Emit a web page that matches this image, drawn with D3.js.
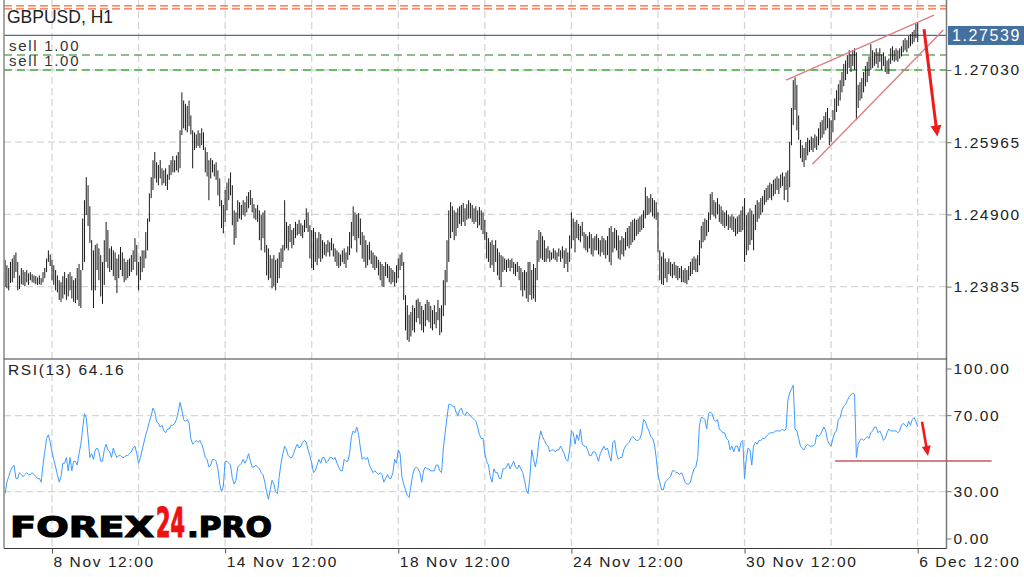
<!DOCTYPE html>
<html>
<head>
<meta charset="utf-8">
<script src="https://cdn.jsdelivr.net/npm/d3@7"></script>
<style>
  body { margin: 0; background: #fff; }
  svg { display: block; }
</style>
</head>
<body>
<svg id="chart" width="1024" height="577"></svg>
<script>
// hourly GBPUSD bars, 7 Nov 10:00 .. 6 Dec 12:00 (index = bar number)
const highs = [
1.2423,1.2415,1.2411,1.2420,1.2425,1.2430,1.2434,1.2420,1.2400,1.2411,
1.2408,1.2405,1.2408,1.2403,1.2405,1.2402,1.2400,1.2399,1.2397,1.2400,
1.2396,1.2405,1.2411,1.2425,1.2437,1.2431,1.2423,1.2415,1.2408,1.2400,
1.2393,1.2390,1.2399,1.2405,1.2396,1.2402,1.2405,1.2399,1.2393,1.2396,
1.2411,1.2417,1.2408,1.2484,1.2511,1.2545,1.2533,1.2502,1.2452,1.2437,
1.2445,1.2447,1.2440,1.2430,1.2420,1.2452,1.2479,1.2467,1.2440,1.2443,
1.2437,1.2434,1.2425,1.2431,1.2442,1.2434,1.2425,1.2420,1.2423,1.2425,
1.2430,1.2437,1.2455,1.2445,1.2420,1.2428,1.2437,1.2437,1.2464,1.2484,
1.2521,1.2545,1.2570,1.2582,1.2567,1.2563,1.2570,1.2558,1.2555,1.2558,
1.2549,1.2563,1.2570,1.2576,1.2570,1.2577,1.2582,1.2614,1.2670,1.2658,
1.2653,1.2650,1.2658,1.2636,1.2614,1.2611,1.2608,1.2614,1.2610,1.2617,
1.2611,1.2589,1.2582,1.2570,1.2573,1.2570,1.2564,1.2567,1.2555,1.2543,
1.2511,1.2504,1.2526,1.2537,1.2543,1.2552,1.2533,1.2496,1.2493,1.2511,
1.2508,1.2504,1.2511,1.2508,1.2517,1.2523,1.2526,1.2514,1.2505,1.2499,
1.2504,1.2496,1.2489,1.2493,1.2496,1.2445,1.2440,1.2430,1.2425,1.2430,
1.2423,1.2425,1.2434,1.2440,1.2445,1.2511,1.2479,1.2473,1.2476,1.2467,
1.2470,1.2479,1.2476,1.2482,1.2477,1.2474,1.2482,1.2499,1.2493,1.2474,
1.2467,1.2470,1.2464,1.2455,1.2464,1.2461,1.2452,1.2449,1.2446,1.2452,
1.2449,1.2455,1.2447,1.2440,1.2437,1.2434,1.2431,1.2437,1.2440,1.2434,
1.2443,1.2464,1.2479,1.2502,1.2493,1.2490,1.2492,1.2484,1.2464,1.2459,
1.2452,1.2445,1.2449,1.2437,1.2434,1.2430,1.2428,1.2423,1.2420,1.2417,
1.2414,1.2420,1.2417,1.2414,1.2411,1.2408,1.2405,1.2415,1.2425,1.2431,
1.2434,1.2420,1.2371,1.2356,1.2342,1.2346,1.2356,1.2352,1.2364,1.2366,
1.2361,1.2355,1.2349,1.2358,1.2364,1.2361,1.2355,1.2349,1.2356,1.2346,
1.2364,1.2352,1.2356,1.2393,1.2408,1.2452,1.2496,1.2508,1.2502,1.2496,
1.2493,1.2499,1.2502,1.2504,1.2507,1.2499,1.2505,1.2511,1.2507,1.2504,
1.2499,1.2502,1.2496,1.2501,1.2496,1.2493,1.2482,1.2464,1.2455,1.2449,
1.2452,1.2445,1.2452,1.2440,1.2434,1.2430,1.2428,1.2425,1.2423,1.2425,
1.2423,1.2425,1.2420,1.2417,1.2420,1.2414,1.2411,1.2405,1.2408,1.2405,
1.2420,1.2420,1.2408,1.2417,1.2411,1.2452,1.2467,1.2464,1.2458,1.2452,
1.2440,1.2443,1.2437,1.2434,1.2440,1.2437,1.2434,1.2440,1.2437,1.2443,
1.2437,1.2440,1.2434,1.2459,1.2493,1.2484,1.2479,1.2482,1.2476,1.2473,
1.2479,1.2464,1.2461,1.2458,1.2464,1.2461,1.2455,1.2458,1.2461,1.2455,
1.2452,1.2458,1.2455,1.2452,1.2458,1.2470,1.2473,1.2464,1.2470,1.2467,
1.2459,1.2452,1.2458,1.2455,1.2464,1.2470,1.2473,1.2479,1.2482,1.2484,
1.2482,1.2484,1.2487,1.2490,1.2496,1.2530,1.2517,1.2514,1.2520,1.2514,
1.2511,1.2508,1.2493,1.2437,1.2428,1.2434,1.2425,1.2420,1.2425,1.2420,
1.2417,1.2420,1.2415,1.2414,1.2411,1.2414,1.2408,1.2411,1.2408,1.2414,
1.2420,1.2425,1.2428,1.2425,1.2430,1.2452,1.2473,1.2479,1.2484,1.2482,
1.2493,1.2520,1.2523,1.2511,1.2508,1.2514,1.2505,1.2502,1.2496,1.2493,
1.2496,1.2490,1.2487,1.2490,1.2487,1.2484,1.2487,1.2490,1.2496,1.2502,
1.2514,1.2489,1.2493,1.2499,1.2496,1.2490,1.2504,1.2511,1.2508,1.2514,
1.2517,1.2526,1.2529,1.2533,1.2537,1.2535,1.2541,1.2543,1.2546,1.2543,
1.2549,1.2552,1.2546,1.2552,1.2555,1.2597,1.2647,1.2688,1.2692,1.2681,
1.2636,1.2600,1.2592,1.2588,1.2597,1.2603,1.2600,1.2605,1.2603,1.2608,
1.2605,1.2617,1.2626,1.2629,1.2635,1.2641,1.2647,1.2632,1.2629,1.2644,
1.2661,1.2673,1.2682,1.2688,1.2700,1.2712,1.2717,1.2725,1.2732,1.2726,
1.2732,1.2735,1.2729,1.2681,1.2685,1.2691,1.2700,1.2709,1.2715,1.2723,
1.2741,1.2732,1.2729,1.2735,1.2729,1.2735,1.2726,1.2729,1.2723,1.2717,
1.2720,1.2735,1.2738,1.2732,1.2735,1.2732,1.2735,1.2738,1.2747,1.2750,
1.2747,1.2753,1.2756,1.2759,1.2762,1.2771,1.2773
];

const lows = [
1.2383,1.2381,1.2378,1.2389,1.2390,1.2396,1.2405,1.2378,1.2380,1.2387,
1.2386,1.2384,1.2390,1.2386,1.2393,1.2390,1.2389,1.2387,1.2386,1.2387,
1.2386,1.2390,1.2396,1.2405,1.2420,1.2414,1.2393,1.2386,1.2378,1.2375,
1.2364,1.2361,1.2366,1.2372,1.2364,1.2369,1.2378,1.2366,1.2361,1.2359,
1.2364,1.2355,1.2352,1.2408,1.2420,1.2489,1.2473,1.2448,1.2378,1.2352,
1.2378,1.2408,1.2393,1.2369,1.2358,1.2386,1.2420,1.2411,1.2405,1.2408,
1.2399,1.2393,1.2374,1.2396,1.2408,1.2399,1.2390,1.2393,1.2396,1.2399,
1.2405,1.2408,1.2420,1.2400,1.2378,1.2393,1.2405,1.2411,1.2425,1.2437,
1.2479,1.2514,1.2526,1.2543,1.2537,1.2533,1.2543,1.2533,1.2536,1.2532,
1.2526,1.2541,1.2548,1.2552,1.2552,1.2555,1.2552,1.2558,1.2607,1.2617,
1.2614,1.2611,1.2620,1.2608,1.2558,1.2585,1.2588,1.2591,1.2588,1.2592,
1.2585,1.2552,1.2546,1.2511,1.2543,1.2552,1.2546,1.2541,1.2518,1.2502,
1.2470,1.2462,1.2479,1.2496,1.2511,1.2518,1.2474,1.2445,1.2455,1.2479,
1.2484,1.2482,1.2489,1.2487,1.2493,1.2499,1.2504,1.2493,1.2484,1.2482,
1.2479,1.2452,1.2437,1.2455,1.2434,1.2400,1.2393,1.2396,1.2381,1.2384,
1.2378,1.2389,1.2396,1.2411,1.2420,1.2437,1.2440,1.2437,1.2449,1.2440,
1.2445,1.2455,1.2459,1.2461,1.2458,1.2455,1.2464,1.2470,1.2464,1.2425,
1.2411,1.2408,1.2420,1.2415,1.2425,1.2420,1.2425,1.2430,1.2428,1.2434,
1.2428,1.2437,1.2428,1.2420,1.2414,1.2411,1.2414,1.2420,1.2417,1.2411,
1.2423,1.2430,1.2440,1.2458,1.2452,1.2434,1.2455,1.2445,1.2425,1.2420,
1.2411,1.2415,1.2423,1.2417,1.2411,1.2408,1.2411,1.2400,1.2393,1.2384,
1.2383,1.2399,1.2396,1.2390,1.2387,1.2390,1.2384,1.2389,1.2396,1.2408,
1.2414,1.2364,1.2319,1.2305,1.2302,1.2310,1.2319,1.2316,1.2331,1.2337,
1.2328,1.2319,1.2316,1.2325,1.2334,1.2331,1.2322,1.2319,1.2328,1.2322,
1.2334,1.2312,1.2316,1.2340,1.2356,1.2390,1.2420,1.2455,1.2464,1.2452,
1.2458,1.2470,1.2476,1.2473,1.2479,1.2473,1.2482,1.2484,1.2484,1.2479,
1.2476,1.2479,1.2470,1.2474,1.2467,1.2461,1.2452,1.2425,1.2420,1.2411,
1.2415,1.2405,1.2420,1.2400,1.2393,1.2383,1.2405,1.2408,1.2405,1.2411,
1.2406,1.2411,1.2402,1.2399,1.2405,1.2393,1.2378,1.2369,1.2378,1.2366,
1.2361,1.2371,1.2364,1.2366,1.2361,1.2393,1.2420,1.2425,1.2423,1.2420,
1.2420,1.2425,1.2420,1.2423,1.2425,1.2423,1.2420,1.2428,1.2420,1.2425,
1.2411,1.2417,1.2405,1.2420,1.2440,1.2452,1.2434,1.2455,1.2452,1.2449,
1.2458,1.2440,1.2437,1.2434,1.2440,1.2431,1.2428,1.2437,1.2437,1.2431,
1.2428,1.2434,1.2430,1.2425,1.2430,1.2420,1.2415,1.2434,1.2440,1.2437,
1.2425,1.2423,1.2431,1.2428,1.2437,1.2443,1.2440,1.2445,1.2449,1.2452,
1.2458,1.2461,1.2464,1.2467,1.2470,1.2484,1.2489,1.2490,1.2493,1.2487,
1.2484,1.2482,1.2434,1.2393,1.2387,1.2386,1.2396,1.2390,1.2402,1.2399,
1.2396,1.2400,1.2396,1.2393,1.2396,1.2390,1.2390,1.2389,1.2387,1.2393,
1.2399,1.2402,1.2408,1.2405,1.2405,1.2415,1.2440,1.2449,1.2452,1.2458,
1.2464,1.2482,1.2490,1.2487,1.2484,1.2490,1.2479,1.2476,1.2473,1.2470,
1.2473,1.2467,1.2470,1.2467,1.2464,1.2458,1.2461,1.2464,1.2464,1.2467,
1.2420,1.2430,1.2437,1.2445,1.2452,1.2437,1.2467,1.2479,1.2484,1.2489,
1.2493,1.2504,1.2508,1.2511,1.2514,1.2511,1.2517,1.2520,1.2526,1.2520,
1.2529,1.2532,1.2511,1.2526,1.2508,1.2530,1.2592,1.2622,1.2644,1.2614,
1.2600,1.2573,1.2567,1.2560,1.2570,1.2577,1.2582,1.2585,1.2582,1.2588,
1.2585,1.2592,1.2600,1.2603,1.2608,1.2614,1.2617,1.2592,1.2597,1.2611,
1.2629,1.2641,1.2650,1.2658,1.2670,1.2679,1.2688,1.2697,1.2706,1.2700,
1.2709,1.2703,1.2629,1.2647,1.2658,1.2661,1.2670,1.2679,1.2685,1.2694,
1.2703,1.2706,1.2709,1.2712,1.2706,1.2715,1.2703,1.2709,1.2700,1.2697,
1.2697,1.2712,1.2717,1.2715,1.2717,1.2715,1.2720,1.2723,1.2729,1.2732,
1.2729,1.2735,1.2738,1.2741,1.2744,1.2750,1.2744
];

const rsi = [
29,35,38,41,43,44,37,37,40,39,
38,39,40,39,39,40,39,38,37,37,
35,44,51,58,60,56,51,47,43,39,
35,38,45,45,48,41,48,41,46,46,
44,50,55,63,71,69,59,48,50,47,
52,53,51,46,46,52,55,52,51,48,
53,50,48,49,49,48,48,49,49,50,
51,53,54,50,45,48,52,56,60,63,
67,70,74,72,67,66,64,65,62,61,
63,63,65,65,66,68,72,77,73,68,
67,68,66,58,55,56,57,56,57,55,
52,48,47,43,44,47,47,46,42,34,
30,33,46,46,45,44,37,34,36,43,
44,45,47,45,47,50,46,43,43,44,
43,42,40,39,35,30,26,31,36,34,
30,29,38,45,50,54,52,49,48,48,
50,53,55,53,54,56,57,56,52,49,
45,40,41,44,47,45,48,48,45,46,
48,48,47,48,45,43,41,41,47,46,
46,50,59,62,61,64,60,53,47,48,
47,48,44,42,40,41,40,39,40,39,
35,37,39,37,37,40,47,45,52,50,
38,34,31,28,27,33,39,42,43,42,
40,35,41,43,42,42,41,41,41,44,
44,41,40,53,61,69,76,76,75,75,
72,70,73,74,71,70,72,71,70,69,
68,67,64,60,58,58,50,46,44,38,
35,42,40,40,37,37,42,42,43,45,
42,44,46,43,42,44,42,40,36,31,
29,38,52,47,43,48,57,62,59,57,
55,54,51,52,52,51,52,52,54,52,
50,47,46,52,62,61,55,60,57,63,
55,54,54,52,49,49,51,51,49,46,
50,52,54,52,53,49,46,56,57,50,
47,48,48,52,54,55,56,58,59,58,
57,57,58,61,68,67,64,62,59,58,
55,48,39,35,31,31,35,36,37,38,
41,41,40,40,39,40,38,35,34,34,
35,39,42,43,48,65,69,69,68,63,
71,72,71,68,67,68,63,62,61,61,
58,57,52,54,51,54,54,51,56,57,
37,48,53,52,44,54,56,55,57,57,
58,58,59,60,61,61,61,62,62,62,
62,63,62,63,78,82,84,86,63,62,
58,54,53,52,54,55,54,54,54,55,
60,59,60,62,64,62,57,55,54,58,
61,62,68,69,73,75,76,78,80,81,
82,81,48,55,57,58,57,58,59,58,
61,62,64,64,61,62,60,57,58,61,
63,62,62,62,62,61,62,65,66,65,
64,67,65,68,69,67,64.16
];

const priceTicks = [1.27030, 1.25965, 1.24900, 1.23835];
const rsiTicks = [100, 70, 30, 0];
const rsiGrid = [70, 30];
const gridBars = [26, 74, 122, 170, 218, 266, 314, 362, 410, 458, 506];
const timeTickBars = [26, 122, 218, 314, 410, 506];
const timeTickLabels = ["8 Nov 12:00", "14 Nov 12:00", "18 Nov 12:00", "24 Nov 12:00", "30 Nov 12:00", "6 Dec 12:00"];

const lastPrice = 1.27539;
const stopLevels = [1.27975, 1.27930];
const sellLevels = [1.27251, 1.27030];
const sellLabels = ["sell 1.00", "sell 1.00"];

// drawn annotations: [bar index, value]
const wedgeUpper = [[433, 1.2688], [515, 1.2784]];
const wedgeLower = [[447.6, 1.2564], [520.2, 1.2762]];
const priceArrow = [[509.5, 1.2763], [516.9, 1.2605]];
const rsiArrow = [[508.4, 66.8], [511.7, 48.8]];
const rsiLevel = [[460.2, 46.2], [547, 46.2]];

const FONT = '"Liberation Sans", Arial, sans-serif';
const plotL = 4, plotR = 946.5;
const mainBot = 359, rsiBot = 548.5;

const svg = d3.select('#chart');
svg.append('rect').attr('width', 1024).attr('height', 577).attr('fill', '#fff');

const x = d3.scaleLinear().domain([0, 506]).range([5.1, 917.7]);
const y = d3.scaleLinear().domain([1.22768, 1.28062]).range([mainBot, 0]);
const yr = d3.scaleLinear().domain([0, 100]).range([548.7, 358.7]);

// grid
const grid = svg.append('g')
    .attr('stroke', '#d6d6d6')
    .attr('stroke-width', 1.3)
    .attr('stroke-dasharray', '7,4');

grid.selectAll('.gv').data(gridBars).enter().append('line')
    .attr('x1', d => x(d)).attr('x2', d => x(d))
    .attr('y1', 0).attr('y2', rsiBot);

grid.selectAll('.gh').data(priceTicks).enter().append('line')
    .attr('x1', plotL).attr('x2', plotR)
    .attr('y1', d => y(d)).attr('y2', d => y(d));

grid.selectAll('.gr').data(rsiGrid).enter().append('line')
    .attr('x1', plotL).attr('x2', plotR)
    .attr('y1', d => yr(d)).attr('y2', d => yr(d));

// level lines
svg.selectAll('.stop').data(stopLevels).enter().append('line')
    .attr('x1', plotL).attr('x2', plotR)
    .attr('y1', d => y(d)).attr('y2', d => y(d))
    .attr('stroke', '#f2683a').attr('stroke-width', 1.3)
    .attr('stroke-dasharray', '8,4');

svg.append('line')
    .attr('x1', plotL).attr('x2', plotR)
    .attr('y1', y(sellLevels[0])).attr('y2', y(sellLevels[0]))
    .attr('stroke', '#1f7a1f').attr('stroke-width', 1.2)
    .attr('stroke-dasharray', '8,5');

svg.append('line')
    .attr('x1', plotL).attr('x2', plotR)
    .attr('y1', y(sellLevels[1])).attr('y2', y(sellLevels[1]))
    .attr('stroke', '#6cbc6c').attr('stroke-width', 2)
    .attr('stroke-dasharray', '8,5');

svg.append('line')
    .attr('x1', plotL).attr('x2', plotR)
    .attr('y1', y(lastPrice)).attr('y2', y(lastPrice))
    .attr('stroke', '#4a70a2').attr('stroke-width', 1.2);

// price bars
svg.append('g').selectAll('line').data(highs).enter().append('line')
    .attr('x1', (d, i) => x(i)).attr('x2', (d, i) => x(i))
    .attr('y1', d => y(d)).attr('y2', (d, i) => y(lows[i]))
    .attr('stroke', '#1a1a1a').attr('stroke-width', 1);

// RSI line
svg.append('path')
    .datum(rsi)
    .attr('d', d3.line().x((d, i) => x(i)).y(d => yr(d)))
    .attr('fill', 'none')
    .attr('stroke', '#3d9bff')
    .attr('stroke-width', 1);

// frame
const frame = svg.append('g');
frame.append('line').attr('x1', plotL).attr('x2', plotL).attr('y1', 0).attr('y2', rsiBot)
    .attr('stroke', '#8a8a8a').attr('stroke-width', 1.5);
frame.append('line').attr('x1', plotR).attr('x2', plotR).attr('y1', 0).attr('y2', rsiBot)
    .attr('stroke', '#7a7a7a').attr('stroke-width', 1.5);
frame.append('line').attr('x1', plotL).attr('x2', plotR).attr('y1', mainBot).attr('y2', mainBot)
    .attr('stroke', '#3a3a3a').attr('stroke-width', 1);
frame.append('line').attr('x1', plotL).attr('x2', plotR).attr('y1', rsiBot).attr('y2', rsiBot)
    .attr('stroke', '#3a3a3a').attr('stroke-width', 1);

// wedge + rsi level
const red = svg.append('g');
[wedgeUpper, wedgeLower].forEach(p => {
    red.append('line')
        .attr('x1', x(p[0][0])).attr('y1', y(p[0][1]))
        .attr('x2', x(p[1][0])).attr('y2', y(p[1][1]))
        .attr('stroke', '#e07b80').attr('stroke-width', 1.3);
});
red.append('line')
    .attr('x1', x(rsiLevel[0][0])).attr('y1', yr(rsiLevel[0][1]))
    .attr('x2', x(rsiLevel[1][0])).attr('y2', yr(rsiLevel[1][1]))
    .attr('stroke', '#c9585c').attr('stroke-width', 1.5);

function arrow(pts, sy, width, headLen, headW) {
    const x1 = x(pts[0][0]), y1 = sy(pts[0][1]);
    const x2 = x(pts[1][0]), y2 = sy(pts[1][1]);
    const len = Math.hypot(x2 - x1, y2 - y1);
    const ux = (x2 - x1) / len, uy = (y2 - y1) / len;
    const bx = x2 - ux * headLen, by = y2 - uy * headLen;
    red.append('line')
        .attr('x1', x1).attr('y1', y1).attr('x2', bx + ux).attr('y2', by + uy)
        .attr('stroke', '#ee1c1c').attr('stroke-width', width);
    red.append('path')
        .attr('d', `M${x2},${y2}L${bx - uy * headW / 2},${by + ux * headW / 2}L${bx + uy * headW / 2},${by - ux * headW / 2}Z`)
        .attr('fill', '#ee1c1c');
}
arrow(priceArrow, y, 3, 11, 11);
arrow(rsiArrow, yr, 2.6, 10, 9);

// axes
function styleText(sel) {
    sel.style('font-family', FONT).style('font-size', '15.5px')
        .style('letter-spacing', '1.6px').attr('fill', '#222');
}

const priceAxis = svg.append('g')
    .attr('transform', `translate(${plotR},0)`)
    .call(d3.axisRight(y).tickValues(priceTicks).tickFormat(d3.format('.5f'))
        .tickSizeInner(5).tickSizeOuter(0).tickPadding(2));
priceAxis.select('.domain').remove();
priceAxis.selectAll('line').attr('stroke', '#777');
styleText(priceAxis.selectAll('text'));

const rsiAxis = svg.append('g');
rsiAxis.selectAll('line').data(rsiTicks).enter().append('line')
    .attr('x1', plotR).attr('x2', plotR + 5)
    .attr('y1', d => Math.min(Math.max(yr(d), 369), 539))
    .attr('y2', d => Math.min(Math.max(yr(d), 369), 539))
    .attr('stroke', '#777');
rsiAxis.selectAll('text').data(rsiTicks).enter().append('text')
    .attr('x', plotR + 7)
    .attr('y', d => Math.min(Math.max(yr(d), 369), 539))
    .attr('dy', '0.35em')
    .text(d => d3.format('.2f')(d))
    .call(styleText);

const timeAxis = svg.append('g')
    .attr('transform', `translate(0,${rsiBot})`)
    .call(d3.axisBottom(x).tickValues(timeTickBars).tickFormat((d, i) => timeTickLabels[i])
        .tickSizeInner(5).tickSizeOuter(0).tickPadding(2));
timeAxis.select('.domain').remove();
timeAxis.selectAll('line').attr('stroke', '#555');
timeAxis.selectAll('text').attr('text-anchor', 'start').attr('x', 1);
styleText(timeAxis.selectAll('text'));

// last price tag
svg.append('rect')
    .attr('x', 948).attr('y', y(lastPrice) - 9.5)
    .attr('width', 76).attr('height', 19)
    .attr('fill', '#44709f');
svg.append('text')
    .attr('x', 952).attr('y', y(lastPrice)).attr('dy', '0.35em')
    .text(d3.format('.5f')(lastPrice))
    .call(styleText).style('font-size', '16px').attr('fill', '#fff');

// texts
svg.append('text').attr('x', 7).attr('y', 23).text('GBPUSD, H1')
    .style('font-family', FONT).style('font-size', '17.5px').attr('fill', '#222');

svg.selectAll('.sell').data(sellLevels).enter().append('text')
    .attr('x', 9).attr('y', d => y(d) - 4)
    .text((d, i) => sellLabels[i])
    .style('font-family', FONT).style('font-size', '15px')
    .style('letter-spacing', '1.7px').attr('fill', '#333');

svg.append('text').attr('x', 8).attr('y', 375)
    .text('RSI(13) ' + d3.format('.2f')(rsi[rsi.length - 1]))
    .call(styleText);

// watermark: three parts, each stretched to its width in the picture
const wmParts = [
    { text: 'FOREX', x: 10, w: 144, size: 29, color: '#000' },
    { text: '24', x: 156, w: 29, size: 40, color: '#ee1111' },
    { text: '.PRO', x: 187, w: 85, size: 29, color: '#000' }
];
wmParts.forEach(p => {
    const t = svg.append('text')
        .text(p.text)
        .style('font-family', '"DejaVu Sans", sans-serif')
        .style('font-weight', 'bold')
        .style('font-size', p.size + 'px')
        .attr('fill', p.color)
        .attr('stroke', p.color).attr('stroke-width', 1.2);
    const natural = t.node().getComputedTextLength();
    t.attr('transform', `translate(${p.x},537) scale(${p.w / natural},1)`);
});
</script>
</body>
</html>
